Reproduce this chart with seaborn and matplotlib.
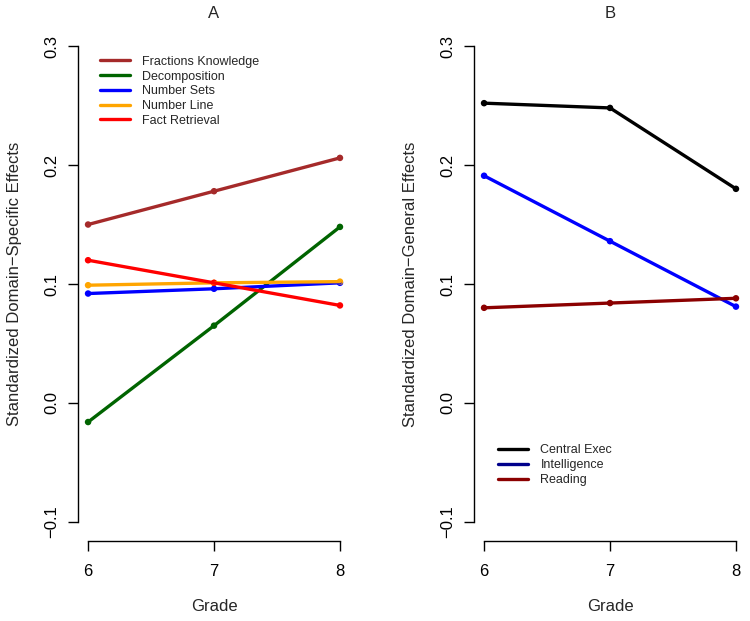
"""Two-panel grade trend plot: domain-specific (A) and domain-general (B) effects."""

import pandas as pd
import matplotlib
matplotlib.use("Agg")
import matplotlib.pyplot as plt
import seaborn as sns
from matplotlib.lines import Line2D

grades = [6, 7, 8]

# panel A
specific_names = ["Fractions Knowledge", "Decomposition", "Number Sets",
                  "Number Line", "Fact Retrieval"]
fractions_knowledge = [0.150, 0.178, 0.206]
decomposition = [-0.016, 0.065, 0.148]
number_sets = [0.092, 0.096, 0.101]
number_line = [0.099, 0.101, 0.102]
fact_retrieval = [0.120, 0.101, 0.082]
specific_colors = ["#A52A2A", "#006400", "#0000FF", "#FFA500", "#FF0000"]

# panel B
general_names = ["Central Exec", "Intelligence", "Reading"]
central_exec = [0.252, 0.248, 0.180]
intelligence = [0.191, 0.136, 0.081]
reading = [0.080, 0.084, 0.088]
general_colors = ["#000000", "#0000FF", "#8B0000"]
general_legend_colors = ["#000000", "#00008B", "#8B0000"]

yticks = [-0.1, 0.0, 0.1, 0.2, 0.3]
ytick_labels = ["\u22120.1", "0.0", "0.1", "0.2", "0.3"]


def long_df(names, series):
    rows = []
    for name, vals in zip(names, series):
        for g, v in zip(grades, vals):
            rows.append({"grade": g, "effect": v, "measure": name})
    return pd.DataFrame(rows)


df_a = long_df(specific_names, [fractions_knowledge, decomposition, number_sets,
                                number_line, fact_retrieval])
df_b = long_df(general_names, [central_exec, intelligence, reading])

sns.set_style("white")
plt.rcParams["font.family"] = ["Liberation Sans", "DejaVu Sans"]

fig = plt.figure(figsize=(7.5, 6.21), dpi=100)
ax_a = fig.add_axes([0.104, 0.1288, 0.3627, 0.8277])
ax_b = fig.add_axes([0.632, 0.1288, 0.3627, 0.8277])


def draw_panel(ax, df, names, colors, title, ylabel):
    # lines then dots, like R's type="l" + points(pch=20)
    sns.lineplot(data=df, x="grade", y="effect", hue="measure", hue_order=names,
                 palette=colors, linewidth=2.4, legend=False, ax=ax)
    sns.scatterplot(data=df, x="grade", y="effect", hue="measure", hue_order=names,
                    palette=colors, s=22, edgecolor="none", legend=False, ax=ax)
    ax.set_xlim(5.92, 8.08)
    ax.set_ylim(-0.116, 0.316)
    ax.set_xticks(grades)
    ax.set_xticklabels([str(g) for g in grades])
    ax.set_yticks(yticks)
    ax.set_yticklabels(ytick_labels, rotation=90, va="center")
    for s in ["top", "right"]:
        ax.spines[s].set_visible(False)
    ax.spines["left"].set_bounds(-0.1, 0.3)
    ax.spines["bottom"].set_bounds(6, 8)
    for s in ["left", "bottom"]:
        ax.spines[s].set_color("black")
        ax.spines[s].set_linewidth(1.0)
    ax.tick_params(axis="both", direction="out", length=7.2, width=1.0,
                   color="black", labelsize=12, labelcolor="black",
                   left=True, bottom=True)
    ax.tick_params(axis="x", pad=9)
    ax.tick_params(axis="y", pad=6)
    ax.set_title(title, fontsize=12, pad=6.5)
    ax.set_xlabel("Grade", fontsize=12)
    ax.xaxis.set_label_coords(0.5, -0.112)
    ax.set_ylabel(ylabel, fontsize=12)
    ax.yaxis.set_label_coords(-0.206, 0.5)


draw_panel(ax_a, df_a, specific_names, specific_colors, "A",
           "Standardized Domain\u2212Specific Effects")
draw_panel(ax_b, df_b, general_names, general_colors, "B",
           "Standardized Domain\u2212General Effects")

leg_kw = dict(loc="upper left", frameon=False, fontsize=9, handlelength=2.4,
              handletextpad=1.0, labelspacing=0.22, borderaxespad=0.3)

handles_a = [Line2D([], [], color=c, lw=2.4) for c in specific_colors]
ax_a.legend(handles_a, specific_names, bbox_to_anchor=(0.048, 0.961), **leg_kw)

handles_b = [Line2D([], [], color=c, lw=2.4) for c in general_legend_colors]
ax_b.legend(handles_b, general_names, bbox_to_anchor=(0.056, 0.205), **leg_kw)

fig.savefig("out.png", dpi=100, facecolor="white")
